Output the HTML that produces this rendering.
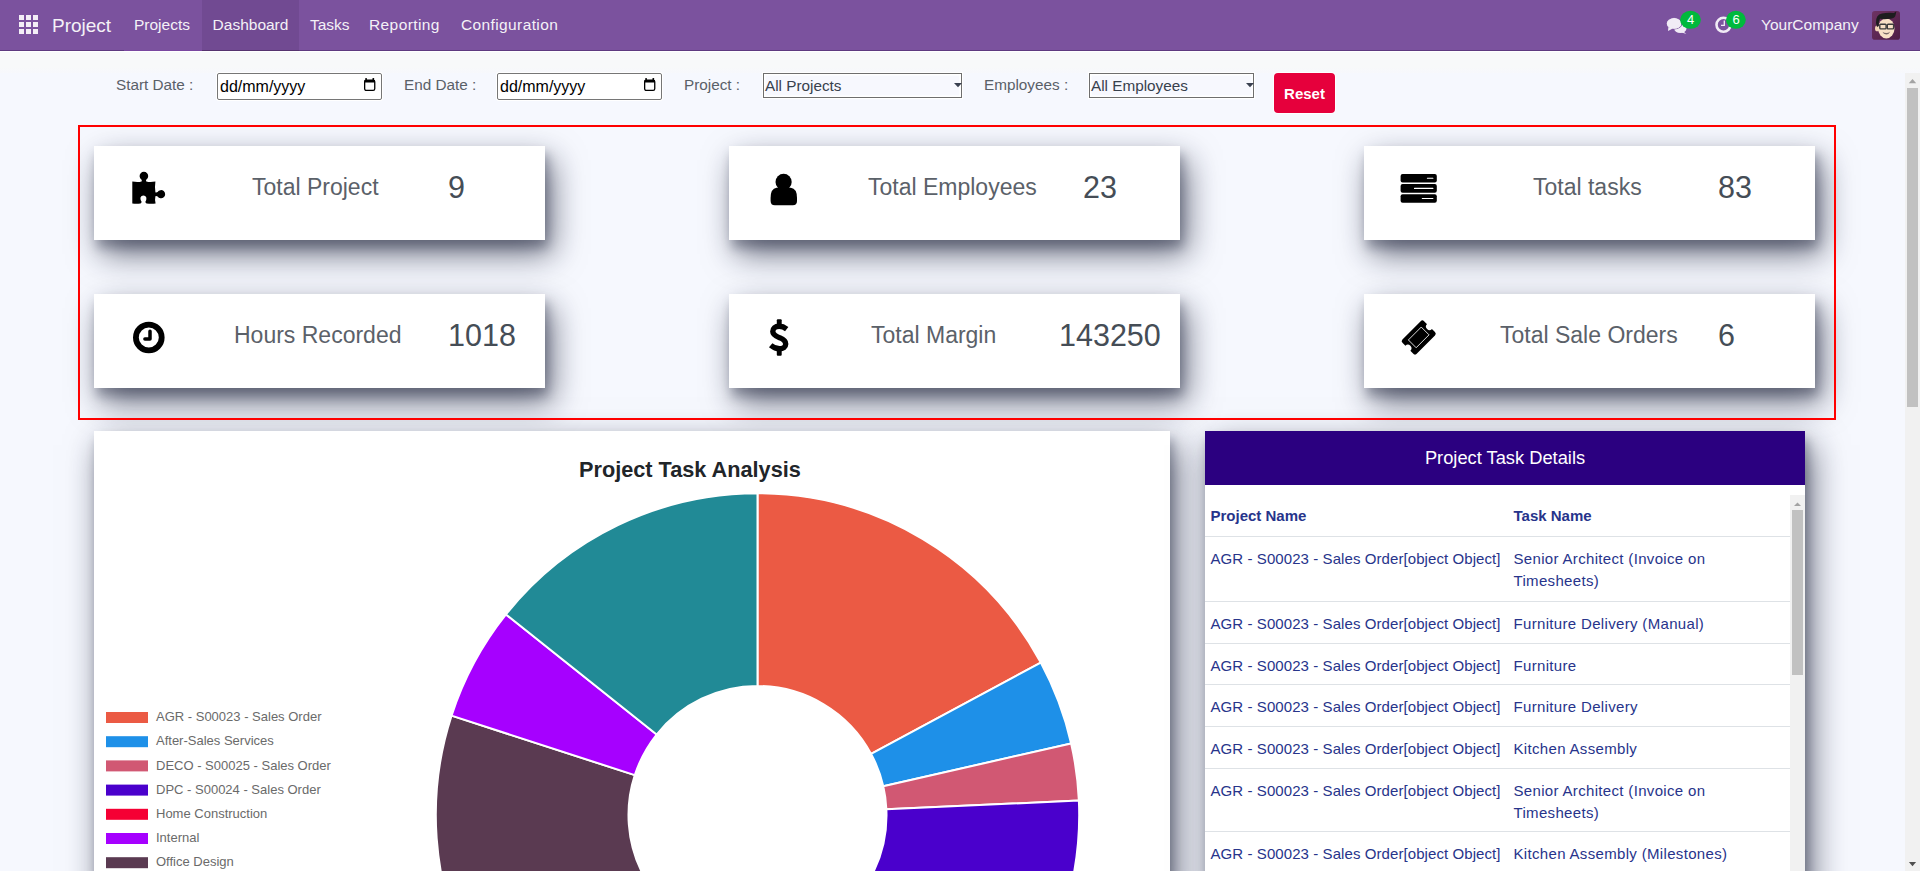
<!DOCTYPE html>
<html><head><meta charset="utf-8">
<style>
*{box-sizing:border-box;margin:0;padding:0}
html,body{width:1920px;height:871px;overflow:hidden}
body{position:relative;background:#f6f8fe;font-family:"Liberation Sans",sans-serif;color:#4b525a}
.a{position:absolute;white-space:nowrap}
#nav{position:absolute;left:0;top:0;width:1920px;height:51px;background:#7b529e;border-bottom:1px solid #5e3a80}
#nav .it{position:absolute;top:0;height:50px;line-height:49px;color:#f4f1f7;font-size:15.5px}
#white1{position:absolute;left:0;top:51px;width:1920px;height:1px;background:#fff}
#band{position:absolute;left:0;top:52px;width:1920px;height:21px;background:linear-gradient(#f8f9fa 0,#f8f9fa 70%,#f7f8fc 100%)}
.lbl{font-size:15.3px;color:#5a6068}
.inp{position:absolute;background:#fff;border:1px solid #767676;border-radius:2px;box-shadow:0 0 0 1px #fff}
.sel{position:absolute;background:#f7f8fe;border:1px solid #6e6e6e;box-shadow:0 0 0 1px #fff,inset 0 0 0 1.5px #fff}
#redbox{position:absolute;left:78px;top:125px;width:1758px;height:295px;border:2px solid #f00}
.card{position:absolute;width:451px;height:94px;background:#fff;box-shadow:7px 14px 32px rgba(15,20,45,.6),3px 8px 10px rgba(15,20,45,.28)}
.card .t{position:absolute;top:0;height:94px;line-height:82px;font-size:23px;color:#5b6169;white-space:nowrap}
.card .n{position:absolute;top:0;height:94px;line-height:82px;font-size:30.5px;color:#454d56;white-space:nowrap}
.card svg{position:absolute}
#sbar{position:absolute;left:1905px;top:73px;width:15px;height:798px;background:#f1f1f1}

.card2{position:absolute;background:#fff;box-shadow:7px 14px 32px rgba(15,20,45,.6),3px 8px 10px rgba(15,20,45,.28)}
#tt{border-collapse:collapse;table-layout:fixed;width:585px;color:#27348b;font-size:15px;line-height:22.5px}
#tt td{vertical-align:top;padding:11px 5px 0 5.5px;border-bottom:1px solid #dee2e6;white-space:nowrap}
#tt td:first-child{width:303px;letter-spacing:0.08px}
#tt td+td{letter-spacing:0.33px}
#tt tr.h td{letter-spacing:0}
#tt tr.h td{font-weight:bold;padding-top:10px}

.dt{position:absolute;left:2px;top:4px;font-size:16px;color:#000;line-height:18px}
.cal{position:absolute;left:145.9px;top:4.1px}
.st{position:absolute;left:1px;top:2.5px;font-size:15.3px;color:#38414d;line-height:18px}
.arr{position:absolute;right:-1px;top:9px}
</style></head><body>
<div id="nav">
  <svg class="a" style="left:19px;top:15px" width="20" height="20" viewBox="0 0 20 20"><g fill="#f3eef6"><rect x="0" y="0" width="5" height="5"/><rect x="7" y="0" width="5" height="5"/><rect x="14" y="0" width="5" height="5"/><rect x="0" y="7" width="5" height="5"/><rect x="7" y="7" width="5" height="5"/><rect x="14" y="7" width="5" height="5"/><rect x="0" y="14" width="5" height="5"/><rect x="7" y="14" width="5" height="5"/><rect x="14" y="14" width="5" height="5"/></g></svg>
  <div class="it" style="left:52px;font-size:19px;line-height:51px">Project</div>
  <div class="it" style="left:134px">Projects</div>
  <div class="it" style="left:202px;width:97px;height:51px;background:#714a92;border-bottom:1px solid #56336f;text-align:center">Dashboard</div>
  <div class="it" style="left:310px">Tasks</div>
  <div class="it" style="left:369px;letter-spacing:0.4px">Reporting</div>
  <div class="it" style="left:461px;letter-spacing:0.38px">Configuration</div>
  <div class="it" style="left:1761px">YourCompany</div>

  <svg class="a" style="left:1660px;top:5px" width="90" height="40" viewBox="1660 5 90 40">
    <g fill="#f1ecf6">
      <ellipse cx="1680.3" cy="28.6" rx="6.2" ry="4.3"/>
      <path d="M1683 31 L1686.3 34 L1681 32.2 Z"/>
      <ellipse cx="1674.1" cy="23.4" rx="7.6" ry="5.6" stroke="#7b529e" stroke-width="1.1"/>
      <path d="M1668.4 27 L1668 30.9 L1672.8 28.4 Z"/>
      <ellipse cx="1674.1" cy="23.4" rx="7.3" ry="5.3"/>
    </g>
    <ellipse cx="1690.5" cy="19.8" rx="10.4" ry="9" fill="#00b93c"/>
    <text x="1690.6" y="24.2" font-family="Liberation Sans" font-size="13" fill="#fff" text-anchor="middle">4</text>
    <circle cx="1723.5" cy="24.8" r="7" fill="none" stroke="#f1ecf6" stroke-width="2.6"/>
    <path d="M1724.3 20.6V25.4H1721" fill="none" stroke="#f1ecf6" stroke-width="1.3"/>
    <ellipse cx="1735.9" cy="19.8" rx="9.9" ry="9" fill="#00b93c"/>
    <text x="1736" y="24.2" font-family="Liberation Sans" font-size="13" fill="#fff" text-anchor="middle">6</text>
  </svg>
  <svg class="a" style="left:1872px;top:11px" width="28" height="29" viewBox="0 0 28 29">
    <defs><linearGradient id="av" x1="0" y1="0" x2="1" y2="1"><stop offset="0" stop-color="#6e3363"/><stop offset="1" stop-color="#4e1c44"/></linearGradient></defs>
    <rect x="0" y="0" width="28" height="28.7" rx="2.8" fill="url(#av)"/>
    <ellipse cx="5.2" cy="17.4" rx="2.2" ry="2.9" fill="#f3d3b6"/>
    <ellipse cx="14.3" cy="17.4" rx="8.2" ry="10" fill="#f8e0c6"/>
    <path d="M4 12 Q3.5 4 10 2.6 Q16 1.2 22 2 Q23.5 0.5 24.3 0.5 Q24 3 23.2 5.2 Q22 7.5 18 7.8 Q12 8.5 8 7.8 Q6.5 10 6.8 15 L5 16 Z" fill="#1d1d1f"/>
    <g fill="none" stroke="#3d3d3d" stroke-width="1.4"><rect x="7.8" y="13.3" width="6.3" height="4.6" rx="0.8"/><rect x="15.3" y="13.3" width="6.3" height="4.6" rx="0.8"/></g>
    <path d="M10.5 20.8 Q14.3 23.5 18.3 20.6 Q17.3 23.2 14.3 23.4 Q11.3 23.3 10.5 20.8Z" fill="#7a6a68"/>
  </svg>
</div>
<div id="white1"></div>
<div class="a" style="left:124px;top:50px;width:78px;height:1px;background:#7a47a0"></div>
<div id="band"></div>

<!-- filter row -->
<div class="a lbl" style="left:116px;top:76px">Start Date :</div>
<div class="inp" style="left:217px;top:73px;width:165px;height:27px"><span class="dt">dd/mm/yyyy</span><svg class="cal" width="12" height="14" viewBox="0 0 12 14"><rect x="0.65" y="2.1" width="10.1" height="10.3" rx="1.6" fill="none" stroke="#000" stroke-width="1.3"/><rect x="0.4" y="1.9" width="10.6" height="2.6" rx="0.8" fill="#000"/><rect x="1.3" y="0" width="1.6" height="2.4" rx="0.5" fill="#000"/><rect x="8.5" y="0" width="1.6" height="2.4" rx="0.5" fill="#000"/></svg></div>
<div class="a lbl" style="left:404px;top:76px">End Date :</div>
<div class="inp" style="left:497px;top:73px;width:165px;height:27px"><span class="dt">dd/mm/yyyy</span><svg class="cal" width="12" height="14" viewBox="0 0 12 14"><rect x="0.65" y="2.1" width="10.1" height="10.3" rx="1.6" fill="none" stroke="#000" stroke-width="1.3"/><rect x="0.4" y="1.9" width="10.6" height="2.6" rx="0.8" fill="#000"/><rect x="1.3" y="0" width="1.6" height="2.4" rx="0.5" fill="#000"/><rect x="8.5" y="0" width="1.6" height="2.4" rx="0.5" fill="#000"/></svg></div>
<div class="a lbl" style="left:684px;top:76px">Project :</div>
<div class="sel" style="left:763px;top:73px;width:199px;height:25px"><span class="st">All Projects</span><svg class="arr" width="8" height="5"><path d="M0 0H8L4 4.2Z" fill="#3a4150"/></svg></div>
<div class="a lbl" style="left:984px;top:76px">Employees :</div>
<div class="sel" style="left:1089px;top:73px;width:165px;height:25px"><span class="st">All Employees</span><svg class="arr" width="8" height="5"><path d="M0 0H8L4 4.2Z" fill="#3a4150"/></svg></div>
<div class="a" style="left:1274px;top:73px;width:61px;height:40px;background:#e6003c;border-radius:4px;box-shadow:0 0 0 1px #fff;color:#fff;font-weight:bold;font-size:15px;line-height:42px;text-align:center">Reset</div>


<div class="card" style="left:94px;top:146px"><div class="t" style="left:158px">Total Project</div><div class="n" style="left:354px">9</div></div>
<div class="card" style="left:729px;top:146px"><div class="t" style="left:139px">Total Employees</div><div class="n" style="left:354px">23</div></div>
<div class="card" style="left:1364px;top:146px"><div class="t" style="left:169px">Total tasks</div><div class="n" style="left:354px">83</div></div>
<div class="card" style="left:94px;top:294px"><div class="t" style="left:140px">Hours Recorded</div><div class="n" style="left:354px">1018</div></div>
<div class="card" style="left:729px;top:294px"><div class="t" style="left:142px">Total Margin</div><div class="n" style="left:330px">143250</div></div>
<div class="card" style="left:1364px;top:294px"><div class="t" style="left:136px">Total Sale Orders</div><div class="n" style="left:354px">6</div></div>


<svg class="a" style="left:0;top:0" width="1920" height="430" viewBox="0 0 1920 430">
<!-- puzzle -->
<g transform="translate(132,171.2)" fill="#000">
<path d="M0.3 10.3 Q6 11.3 9.6 10.2 Q10.2 9.6 9.4 8.4 A4.3 4.3 0 1 1 14.4 8.4 Q13.6 9.6 14.3 10.2 Q18 11.3 23.4 10.3 Q22.6 15.5 23.4 21 Q24.3 21.6 25.6 20.8 A4.1 4.1 0 1 1 25.6 25.2 Q24.3 24.4 23.4 25 Q22.6 29 23.6 32.3 Q19.5 32.9 14.6 32.3 Q13.3 31.8 13.4 30.5 Q14.6 28.8 14.4 26.5 A3.2 3.2 0 0 0 8.4 26.5 Q8.3 28.8 9.6 30.5 Q9.6 31.8 8.5 32.3 Q4.5 33 0.3 32.3 Z"/>
</g>
<!-- user -->
<g fill="#000">
<circle cx="783.6" cy="181.9" r="8.1"/>
<path d="M776.5 187.7 L790.8 187.7 Q797 188.5 797 198 L797 201 Q797 205.2 792.8 205.2 L774.8 205.2 Q770.6 205.2 770.6 201 L770.6 198 Q770.6 188.5 776.5 187.7 Z"/>
</g>
<!-- tasks -->
<g fill="#000">
<rect x="1400.6" y="174" width="36.2" height="8.6" rx="2"/>
<rect x="1400.6" y="184.1" width="36.2" height="8.6" rx="2"/>
<rect x="1400.6" y="194.2" width="36.2" height="8.6" rx="2"/>
</g>
<g stroke="#fff" stroke-width="1.1" stroke-linecap="round">
<path d="M1427.4 178.3H1432.9M1414.5 188.4H1432.9M1422.3 198.5H1432.9"/>
</g>
<!-- clock -->
<circle cx="148.8" cy="337.5" r="12.9" fill="none" stroke="#000" stroke-width="5.8"/>
<path d="M150 331.3V339H144.9" fill="none" stroke="#000" stroke-width="3.5" stroke-linecap="round" stroke-linejoin="round"/>
<!-- dollar -->
<g transform="translate(769,319)">
<path d="M17.7 10.1 C15 8, 12.5 7.3, 10.2 7.3 C6 7.3, 3.8 9.6, 3.8 12.6 C3.8 16.3, 7.6 17.6, 10.8 18.8 C14.5 20.2, 16.7 21.6, 16.7 25 C16.7 28, 14 29.8, 10.5 29.8 C7.3 29.8, 4.2 28.3, 1.7 26.2" fill="none" stroke="#000" stroke-width="5.4"/>
<rect x="7.8" y="0.2" width="4.9" height="6" rx="1"/>
<rect x="7.8" y="30.8" width="4.9" height="6" rx="1"/>
</g>
<!-- ticket -->
<g transform="translate(1418.7,337.4) rotate(-45)">
<rect x="-15.3" y="-10.1" width="30.6" height="20.2" rx="2.4" fill="#000"/>
<circle cx="15.3" cy="0" r="3.5" fill="#fff"/>
<circle cx="-15.3" cy="0" r="3.5" fill="#fff"/>
<rect x="-9.1" y="-5.5" width="18.2" height="11" fill="none" stroke="#fff" stroke-width="0.8"/>
</g>
</svg>

<!-- chart card -->
<div class="card2" style="left:94px;top:431px;width:1076px;height:460px"></div>
<div class="a" style="left:579px;top:456.5px;font-size:21.7px;font-weight:bold;color:#212529">Project Task Analysis</div>
<svg class="a" style="left:0;top:0" width="1920" height="871" viewBox="0 0 1920 871">
<g stroke="#fff" stroke-width="2" stroke-linejoin="round">
<path d="M757.50 493.30A321.7 321.7 0 0 1 1040.79 662.56L871.10 753.87A129 129 0 0 0 757.50 686.00Z" fill="#eb5a44"/>
<path d="M1040.79 662.56A321.7 321.7 0 0 1 1071.13 743.42L883.27 786.29A129 129 0 0 0 871.10 753.87Z" fill="#1e90e8"/>
<path d="M1071.13 743.42A321.7 321.7 0 0 1 1078.88 800.57L886.37 809.21A129 129 0 0 0 883.27 786.29Z" fill="#d15873"/>
<path d="M1078.88 800.57A321.7 321.7 0 0 1 843.08 1125.11L791.82 939.35A129 129 0 0 0 886.37 809.21Z" fill="#4a00cc"/>
<path d="M671.92 1125.11A321.7 321.7 0 0 1 451.55 715.59L634.81 775.14A129 129 0 0 0 723.18 939.35Z" fill="#5a3a51"/>
<path d="M451.55 715.59A321.7 321.7 0 0 1 505.98 614.42L656.64 734.57A129 129 0 0 0 634.81 775.14Z" fill="#a600ff"/>
<path d="M505.98 614.42A321.7 321.7 0 0 1 757.50 493.30L757.50 686.00A129 129 0 0 0 656.64 734.57Z" fill="#218a96"/>
</g>
<g>
<rect x="106" y="712" width="42" height="11" fill="#eb5a44"/>
<rect x="106" y="736.2" width="42" height="11" fill="#1e90e8"/>
<rect x="106" y="760.4" width="42" height="11" fill="#d15873"/>
<rect x="106" y="784.6" width="42" height="11" fill="#4a00cc"/>
<rect x="106" y="808.8" width="42" height="11" fill="#f50034"/>
<rect x="106" y="833" width="42" height="11" fill="#a600ff"/>
<rect x="106" y="857.2" width="42" height="11" fill="#5a3a51"/>
</g>
<g font-family="Liberation Sans" font-size="13" fill="#6a6a6a">
<text x="156" y="721.2">AGR - S00023 - Sales Order</text>
<text x="156" y="745.4">After-Sales Services</text>
<text x="156" y="769.6">DECO - S00025 - Sales Order</text>
<text x="156" y="793.8">DPC - S00024 - Sales Order</text>
<text x="156" y="818">Home Construction</text>
<text x="156" y="842.2">Internal</text>
<text x="156" y="866.4">Office Design</text>
</g>
</svg>

<!-- table card -->
<div class="card2" style="left:1205px;top:431px;width:600px;height:460px"></div>
<div class="a" style="left:1205px;top:431px;width:600px;height:54px;background:#2b0080;color:#fff;font-size:18.3px;text-align:center;line-height:54px">Project Task Details</div>
<div class="a" style="left:1205px;top:495px;width:585px;height:376px;overflow:hidden">
<table id="tt">
<tr class="h" style="height:41.3px"><td>Project Name</td><td>Task Name</td></tr>
<tr style="height:65px"><td>AGR - S00023 - Sales Order[object Object]</td><td>Senior Architect (Invoice on<br>Timesheets)</td></tr>
<tr style="height:41.9px"><td>AGR - S00023 - Sales Order[object Object]</td><td>Furniture Delivery (Manual)</td></tr>
<tr style="height:41.3px"><td>AGR - S00023 - Sales Order[object Object]</td><td>Furniture</td></tr>
<tr style="height:42px"><td>AGR - S00023 - Sales Order[object Object]</td><td>Furniture Delivery</td></tr>
<tr style="height:41.9px"><td>AGR - S00023 - Sales Order[object Object]</td><td>Kitchen Assembly</td></tr>
<tr style="height:63.6px"><td>AGR - S00023 - Sales Order[object Object]</td><td>Senior Architect (Invoice on<br>Timesheets)</td></tr>
<tr style="height:42px"><td>AGR - S00023 - Sales Order[object Object]</td><td>Kitchen Assembly (Milestones)</td></tr>
</table>
</div>
<div class="a" style="left:1790px;top:495px;width:15px;height:376px;background:#f1f1f1"></div>
<div class="a" style="left:1792px;top:510px;width:11px;height:165px;background:#c1c1c1"></div>
<svg class="a" style="left:1790px;top:495px" width="15" height="15"><path d="M4 11L7.5 7.5L11 11Z" fill="#a3a3a3"/></svg>

<div id="redbox"></div>
<div id="sbar"></div>
<div class="a" style="left:1907px;top:88px;width:11px;height:319px;background:#c1c1c1"></div>
<svg class="a" style="left:1905px;top:73px" width="15" height="798" viewBox="1905 73 15 798"><path d="M1908.8 83.2L1912.5 79L1916.2 83.2Z" fill="#a3a3a3"/><path d="M1908.9 862L1916.1 862L1912.5 866.2Z" fill="#505050"/></svg>
</body></html>
